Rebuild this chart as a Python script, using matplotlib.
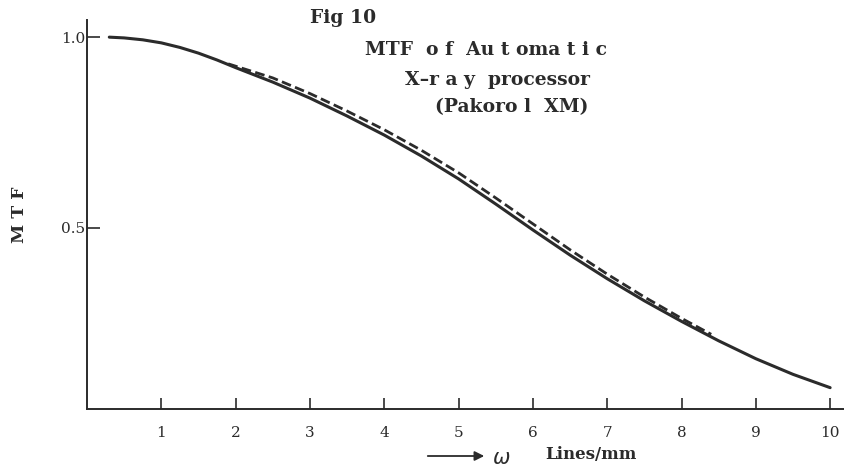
import numpy as np
import matplotlib.pyplot as plt

# MTF of automatic X-ray processor (Pakorol XM), Fig 10
# values

omega = [0.3, 0.5, 0.75, 1.0, 1.25, 1.5, 1.75, 2.0, 2.5, 3.0, 3.5, 4.0, 4.5, 5.0,
         5.5, 6.0, 6.5, 7.0, 7.5, 8.0, 8.5, 9.0, 9.5, 10.0]
mtf_solid = [1.000, 0.998, 0.993, 0.985, 0.973, 0.958, 0.940, 0.920, 0.882, 0.840,
             0.793, 0.743, 0.688, 0.628, 0.562, 0.494, 0.428, 0.366, 0.308, 0.254,
             0.203, 0.156, 0.115, 0.080]

omega_dash = [1.9, 2.5, 3.0, 3.5, 4.0, 4.5, 5.0, 5.5, 6.0, 6.5, 7.0, 7.5, 8.0, 8.4]
mtf_dash = [0.930, 0.893, 0.852, 0.806, 0.757, 0.703, 0.644, 0.578, 0.510, 0.442,
            0.378, 0.318, 0.262, 0.220]

x_ticks = [1, 2, 3, 4, 5, 6, 7, 8, 9, 10]
y_ticks = [0.5, 1.0]
y_ticklabels = ['0.5', '1.0']

# title written with the wide typewriter spacing of the original
title_lines = ['Fig 10', 'MTF  o f  Au t oma t i c', 'X\u2013r a y  processor', '(Pakoro l  XM)']

serif = 'DejaVu Serif'
ink = '#2b2b2b'

fig = plt.figure(figsize=(8.45, 4.73), dpi=100)
ax = fig.add_axes([87 / 845, 64 / 473, 758 / 845, 389 / 473])

ax.plot(omega, mtf_solid, color=ink, lw=2.2, solid_capstyle='round', solid_joinstyle='round')
ax.plot(omega_dash, mtf_dash, color=ink, lw=2.0, ls=(0, (3.5, 1.6)))

ax.set_xlim(0, 10.2)
ax.set_ylim(0.024, 1.045)

ax.spines['top'].set_visible(False)
ax.spines['right'].set_visible(False)
ax.spines['left'].set_color(ink)
ax.spines['bottom'].set_color(ink)
ax.spines['left'].set_linewidth(1.4)
ax.spines['bottom'].set_linewidth(1.4)

ax.set_xticks(x_ticks)
ax.set_xticklabels([str(v) for v in x_ticks], family=serif, fontsize=11, color=ink)
ax.set_yticks(y_ticks)
ax.set_yticklabels(y_ticklabels, family=serif, fontsize=11, color=ink)
ax.tick_params(axis='x', direction='in', length=8, width=1.2, pad=12, colors=ink)
ax.tick_params(axis='y', direction='in', length=9, width=1.2, pad=1, colors=ink)

ax.set_ylabel('M T F', family=serif, fontweight='bold', fontsize=12.5, color=ink, labelpad=24)

# title block, stacked and stepped to the right
tx = [310, 365, 405, 435]
ty = [18, 50, 80, 107]
for s, x, y in zip(title_lines, tx, ty):
    fig.text(x / 845, 1 - y / 473, s, family=serif, fontweight='bold', fontsize=13.5,
             color=ink, ha='left', va='center')

# axis label with arrow
ax.annotate('', xy=(487 / 845, 1 - 456 / 473), xytext=(425 / 845, 1 - 456 / 473),
            xycoords='figure fraction', textcoords='figure fraction',
            arrowprops=dict(arrowstyle='-|>', color=ink, lw=1.3, mutation_scale=14))
fig.text(492 / 845, 1 - 458 / 473, r'$\omega$', fontsize=15, color=ink, ha='left', va='center')
fig.text(545 / 845, 1 - 454 / 473, 'Lines/mm', family=serif, fontweight='bold', fontsize=12,
         color=ink, ha='left', va='center')

fig.savefig('out.png', dpi=100)
